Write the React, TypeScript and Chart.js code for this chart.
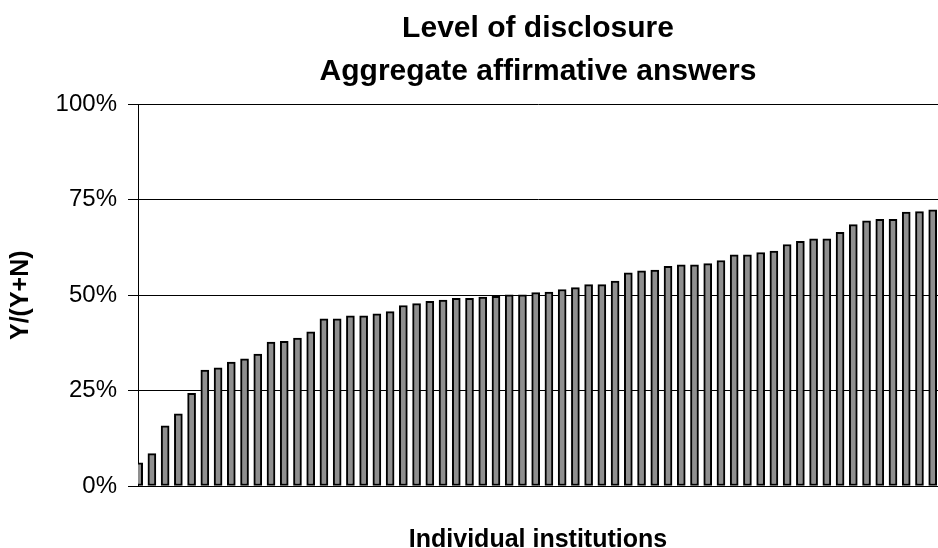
import React, { useEffect, useRef } from "react";
import { Chart, registerables } from "chart.js";

Chart.register(...registerables);

const titleLines = ["Level of disclosure", "Aggregate affirmative answers"];
const xAxisTitle = "Individual institutions";
const yAxisTitle = "Y/(Y+N)";
const yTickLabels = ["0%", "25%", "50%", "75%", "100%"];

// Share of affirmative answers per institution (%), sorted ascending
const disclosure = [
  6.1, 8.5, 15.8, 18.9, 24.3, 30.4, 31.0, 32.5, 33.3, 34.6,
  37.7, 37.9, 38.8, 40.4, 43.8, 43.8, 44.6, 44.6, 45.1, 45.7,
  47.3, 47.8, 48.4, 48.7, 49.2, 49.2, 49.5, 49.7, 50.1, 50.1,
  50.7, 50.8, 51.5, 52.0, 52.8, 52.8, 53.7, 55.9, 56.4, 56.6,
  57.6, 58.0, 58.0, 58.3, 59.1, 60.6, 60.6, 61.2, 61.6, 63.3,
  64.1, 64.8, 64.8, 66.5, 68.5, 69.5, 69.9, 69.9, 71.8, 71.9,
  72.4,
];
const institutions = disclosure.map((_, i) => i);

const FONT = "'Liberation Sans', Arial, sans-serif";

export default function App() {
  const ref = useRef<HTMLCanvasElement | null>(null);

  useEffect(() => {
    if (!ref.current) return;
    const chart = new Chart(ref.current, {
      type: "bar",
      data: {
        labels: institutions,
        datasets: [
          {
            data: disclosure,
            backgroundColor: "#8f8f8f",
            borderColor: "#000000",
            borderWidth: 2,
            borderSkipped: false,
            barThickness: 8,
          },
        ],
      },
      options: {
        responsive: false,
        animation: false,
        devicePixelRatio: 1,
        layout: { padding: 0 },
        plugins: {
          legend: { display: false },
          tooltip: { enabled: false },
          title: {
            display: true,
            fullSize: false,
            text: titleLines,
            color: "#000",
            font: { family: FONT, size: 30, weight: "bold", lineHeight: 1.433 },
            padding: { top: 6.8, bottom: 11.7 },
          },
        },
        scales: {
          x: {
            type: "linear",
            offset: false,
            min: -0.05,
            max: institutions.length - 1 + 0.4,
            grid: { display: false, drawTicks: false, offset: false },
            border: { display: true, color: "#000", width: 1 },
            ticks: { display: false },
            title: {
              display: true,
              text: xAxisTitle,
              color: "#000",
              font: { family: FONT, size: 25, weight: "bold", lineHeight: 0.64 },
              padding: { top: 46, bottom: 0 },
            },
          },
          y: {
            min: 0,
            max: 100,
            afterBuildTicks: (scale: any) => {
              scale.ticks = yTickLabels.map((_, i) => ({ value: i * 25 }));
            },
            afterFit: (scale: any) => {
              scale.width = 138;
            },
            grid: {
              color: "#000",
              lineWidth: 1,
              drawTicks: true,
              tickLength: 10,
              tickColor: "#000",
            },
            border: { display: true, color: "#000", width: 1 },
            ticks: {
              color: "#000",
              padding: 11,
              font: { family: FONT, size: 24 },
              callback: (_v: any, i: number) => yTickLabels[i],
            },
            title: {
              display: true,
              text: yAxisTitle,
              color: "#000",
              font: { family: FONT, size: 25, weight: "bold", lineHeight: 1 },
              padding: { top: 8.5, bottom: 20 },
            },
          },
        },
      },
    });
    return () => chart.destroy();
  }, []);

  return (
    <div style={{ position: "absolute", left: 0, top: 0, width: 938, height: 548, background: "#fff" }}>
      <canvas ref={ref} width={938} height={548} style={{ width: 938, height: 548 }} />
    </div>
  );
}
